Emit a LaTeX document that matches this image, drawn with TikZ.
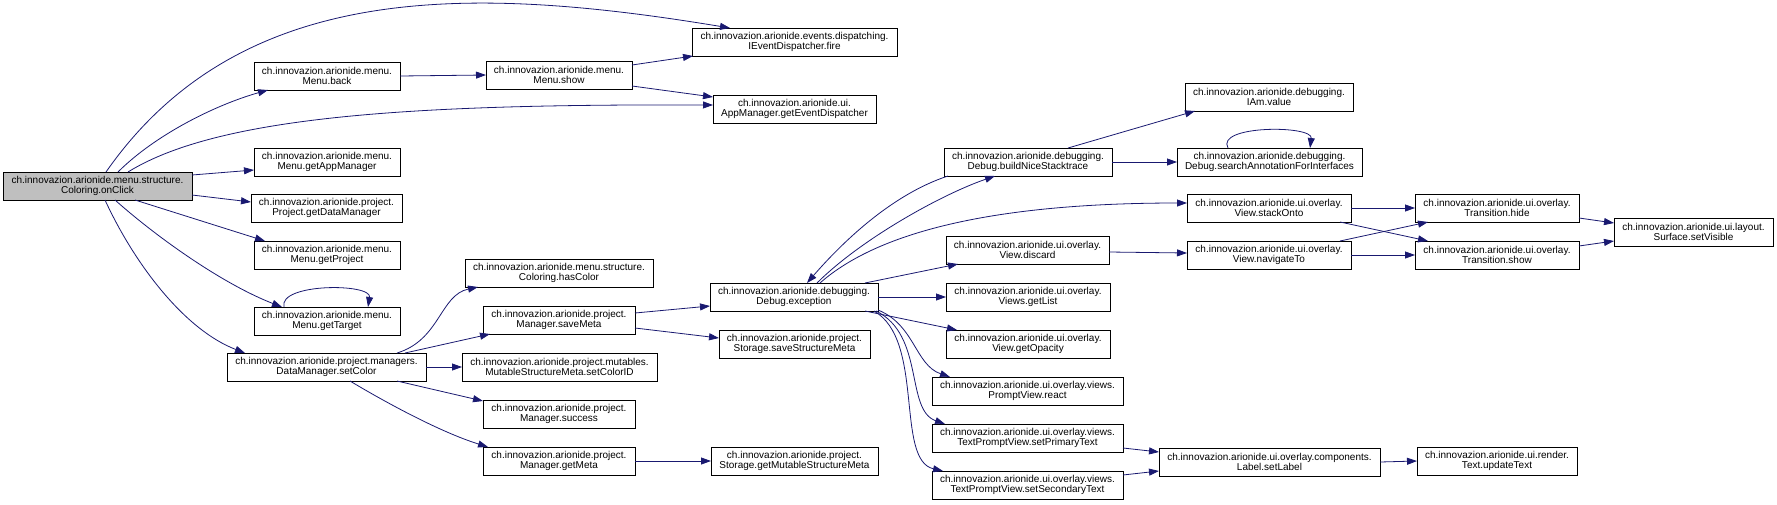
\documentclass[tikz,border=0pt]{standalone}
\usepackage{fontspec}
\setmainfont{Liberation Sans}
\usetikzlibrary{arrows.meta,calc}
\definecolor{edgeblue}{HTML}{191970}
\definecolor{rootgrey}{HTML}{BFBFBF}
\tikzset{
  box/.style={draw=black, line width=0.8pt, fill=white, inner sep=0pt, outer sep=0pt,
    anchor=north west, minimum height=28pt, align=center,
    font=\fontsize{10}{10}\selectfont},
  conn/.style={draw=edgeblue, line width=0.8pt, -{Triangle[length=10pt,width=7pt]}},
}
\begin{document}
\begin{tikzpicture}[x=1pt,y=-1pt]
\useasboundingbox (0,0) rectangle (1777,504);
% nodes
\node[box, minimum width=189pt, fill=rootgrey] (onClick) at (3,172) {ch.innovazion.arionide.menu.structure.\\Coloring.onClick};
\node[box, minimum width=146pt] (back) at (254,62) {ch.innovazion.arionide.menu.\\Menu.back};
\node[box, minimum width=146pt] (show) at (486,61) {ch.innovazion.arionide.menu.\\Menu.show};
\node[box, minimum width=205pt] (fire) at (692,28) {ch.innovazion.arionide.events.dispatching.\\IEventDispatcher.fire};
\node[box, minimum width=163pt] (getED) at (713,95) {ch.innovazion.arionide.ui.\\AppManager.getEventDispatcher};
\node[box, minimum width=146pt] (getAM) at (254,148) {ch.innovazion.arionide.menu.\\Menu.getAppManager};
\node[box, minimum width=151pt] (getDM) at (251,194) {ch.innovazion.arionide.project.\\Project.getDataManager};
\node[box, minimum width=146pt] (getProject) at (254,241) {ch.innovazion.arionide.menu.\\Menu.getProject};
\node[box, minimum width=146pt] (getTarget) at (254,307) {ch.innovazion.arionide.menu.\\Menu.getTarget};
\node[box, minimum width=199pt] (setColor) at (227,353) {ch.innovazion.arionide.project.managers.\\DataManager.setColor};
\node[box, minimum width=188pt] (hasColor) at (465,259) {ch.innovazion.arionide.menu.structure.\\Coloring.hasColor};
\node[box, minimum width=152pt] (saveMeta) at (483,306) {ch.innovazion.arionide.project.\\Manager.saveMeta};
\node[box, minimum width=195pt] (setColorID) at (462,353) {ch.innovazion.arionide.project.mutables.\\MutableStructureMeta.setColorID};
\node[box, minimum width=152pt] (success) at (483,400) {ch.innovazion.arionide.project.\\Manager.success};
\node[box, minimum width=152pt] (getMeta) at (483,447) {ch.innovazion.arionide.project.\\Manager.getMeta};
\node[box, minimum width=168pt] (exception) at (710,283) {ch.innovazion.arionide.debugging.\\Debug.exception};
\node[box, minimum width=151pt] (saveSM) at (719,330) {ch.innovazion.arionide.project.\\Storage.saveStructureMeta};
\node[box, minimum width=167pt] (getMSM) at (711,447) {ch.innovazion.arionide.project.\\Storage.getMutableStructureMeta};
\node[box, minimum width=168pt] (iam) at (1185,83) {ch.innovazion.arionide.debugging.\\IAm.value};
\node[box, minimum width=168pt] (build) at (944,148) {ch.innovazion.arionide.debugging.\\Debug.buildNiceStacktrace};
\node[box, minimum width=185pt] (search) at (1177,148) {ch.innovazion.arionide.debugging.\\Debug.searchAnnotationForInterfaces};
\node[box, minimum width=164pt] (stackOnto) at (1187,194) {ch.innovazion.arionide.ui.overlay.\\View.stackOnto};
\node[box, minimum width=163pt] (discard) at (946,236) {ch.innovazion.arionide.ui.overlay.\\View.discard};
\node[box, minimum width=164pt] (navigateTo) at (1187,241) {ch.innovazion.arionide.ui.overlay.\\View.navigateTo};
\node[box, minimum width=164pt] (getList) at (946,283) {ch.innovazion.arionide.ui.overlay.\\Views.getList};
\node[box, minimum width=164pt] (getOpacity) at (946,330) {ch.innovazion.arionide.ui.overlay.\\View.getOpacity};
\node[box, minimum width=191pt] (react) at (932,377) {ch.innovazion.arionide.ui.overlay.views.\\PromptView.react};
\node[box, minimum width=191pt] (setPrimary) at (932,424) {ch.innovazion.arionide.ui.overlay.views.\\TextPromptView.setPrimaryText};
\node[box, minimum width=191pt] (setSecondary) at (932,471) {ch.innovazion.arionide.ui.overlay.views.\\TextPromptView.setSecondaryText};
\node[box, minimum width=221pt] (setLabel) at (1159,448) {ch.innovazion.arionide.ui.overlay.components.\\Label.setLabel};
\node[box, minimum width=164pt] (hide) at (1415,194) {ch.innovazion.arionide.ui.overlay.\\Transition.hide};
\node[box, minimum width=164pt] (showT) at (1415,241) {ch.innovazion.arionide.ui.overlay.\\Transition.show};
\node[box, minimum width=159pt] (setVisible) at (1614,218) {ch.innovazion.arionide.ui.layout.\\Surface.setVisible};
\node[box, minimum width=160pt] (updateText) at (1417,447) {ch.innovazion.arionide.ui.render.\\Text.updateText};
% connectors
\draw[conn] ($(onClick.north west)+(103,0)$) .. controls (240,-20) and (470,-15) .. ($(fire.north west)+(38,0)$);
\draw[conn] ($(onClick.north west)+(115,0)$) .. controls (155,135) and (215,105) .. ($(back.north west)+(14,28)$);
\draw[conn] ($(onClick.north west)+(125,0)$) .. controls (220,115) and (420,104) .. ($(getED.north west)+(0,10)$);
\draw[conn] ($(onClick.north west)+(189,3)$) -- ($(getAM.north west)+(0,22)$);
\draw[conn] ($(onClick.north west)+(189,23)$) -- ($(getDM.north west)+(0,8)$);
\draw[conn] ($(onClick.north west)+(132,28)$) -- ($(getProject.north west)+(11,0)$);
\draw[conn] ($(onClick.north west)+(112,28)$) .. controls (160,240) and (225,285) .. ($(getTarget.north west)+(28,0)$);
\draw[conn] ($(onClick.north west)+(102,28)$) .. controls (135,265) and (185,330) .. ($(setColor.north west)+(18,0)$);
\draw[conn] (back.east) -- (show.west);
\draw[conn] ($(show.north west)+(146,4)$) -- ($(fire.north west)+(1,28)$);
\draw[conn] ($(show.north west)+(146,25)$) -- ($(getED.north west)+(0,2)$);
\draw[conn] ($(getTarget.north west)+(30,0)$) .. controls (278,283) and (372,283) .. ($(getTarget.north west)+(114,0)$);
\draw[conn] ($(setColor.north west)+(170,0)$) .. controls (440,340) and (440,295) .. ($(hasColor.north west)+(13,28)$);
\draw[conn] ($(setColor.north west)+(178,0)$) -- ($(saveMeta.north west)+(7,28)$);
\draw[conn] (setColor.east) -- (setColorID.west);
\draw[conn] ($(setColor.north west)+(170,28)$) -- ($(success.north west)+(0,1)$);
\draw[conn] ($(setColor.north west)+(123,28)$) .. controls (385,402) and (440,432) .. ($(getMeta.north west)+(5,0)$);
\draw[conn] ($(saveMeta.north west)+(152,7)$) -- ($(exception.north west)+(0,23)$);
\draw[conn] ($(saveMeta.north west)+(152,22)$) -- ($(saveSM.north west)+(0,8)$);
\draw[conn] (getMeta.east) -- (getMSM.west);
\draw[conn] ($(exception.north west)+(107,0)$) .. controls (860,240) and (940,195) .. ($(build.north west)+(51,28)$);
\draw[conn] ($(build.north west)+(4,28)$) .. controls (890,195) and (840,245) .. ($(exception.north west)+(97,0)$);
\draw[conn] ($(exception.north west)+(110,0)$) .. controls (880,230) and (1000,203) .. ($(stackOnto.north west)+(0,9)$);
\draw[conn] ($(exception.north west)+(155,0)$) -- ($(discard.north west)+(12,28)$);
\draw[conn] (exception.east) -- (getList.west);
\draw[conn] ($(exception.north west)+(155,28)$) -- ($(getOpacity.north west)+(11,0)$);
\draw[conn] ($(exception.north west)+(168,27)$) .. controls (915,325) and (915,365) .. ($(react.north west)+(18,0)$);
\draw[conn] ($(exception.north west)+(166,28)$) .. controls (925,335) and (905,410) .. ($(setPrimary.north west)+(13,0)$);
\draw[conn] ($(exception.north west)+(164,28)$) .. controls (925,340) and (895,460) .. ($(setSecondary.north west)+(11,0)$);
\draw[conn] ($(build.north west)+(124,0)$) -- ($(iam.north west)+(10,28)$);
\draw[conn] (build.east) -- (search.west);
\draw[conn] ($(search.north west)+(51,0)$) .. controls (1215,125) and (1313,125) .. ($(search.north west)+(133,0)$);
\draw[conn] (stackOnto.east) -- (hide.west);
\draw[conn] ($(stackOnto.north west)+(153,28)$) -- ($(showT.north west)+(13,0)$);
\draw[conn] ($(navigateTo.north west)+(153,0)$) -- ($(hide.north west)+(13,28)$);
\draw[conn] (navigateTo.east) -- (showT.west);
\draw[conn] ($(discard.north west)+(163,16)$) -- ($(navigateTo.north west)+(0,12)$);
\draw[conn] ($(hide.north west)+(164,24)$) -- ($(setVisible.north west)+(0,5)$);
\draw[conn] ($(showT.north west)+(164,5)$) -- ($(setVisible.north west)+(0,23)$);
\draw[conn] ($(setPrimary.north west)+(191,24)$) -- ($(setLabel.north west)+(0,4)$);
\draw[conn] ($(setSecondary.north west)+(191,4)$) -- ($(setLabel.north west)+(0,23)$);
\draw[conn] (setLabel.east) -- (updateText.west);
\end{tikzpicture}
\end{document}
